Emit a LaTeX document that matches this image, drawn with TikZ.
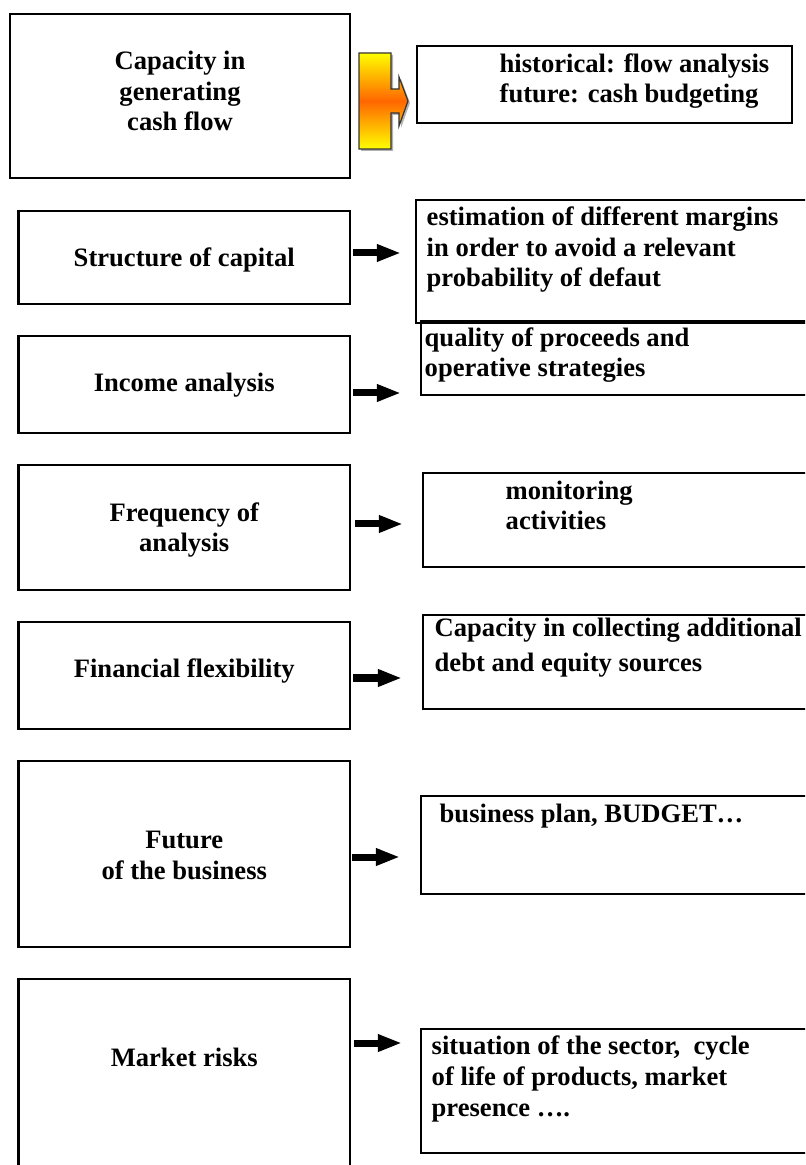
\documentclass[tikz,border=0pt]{standalone}
\usepackage{fontspec}
\setmainfont{Liberation Serif}
\usetikzlibrary{arrows.meta, math}

\tikzset{
	box/.style={draw, line width=0.02cm, inner sep=0pt},
	txt/.style={font=\bfseries\fontsize{7.56}{8.68}\selectfont, inner sep=0pt, align=center, anchor=base},
	ltxt/.style={txt, align=left, anchor=base west},
	blockarrow/.style={->, line width=0.07cm}
}

\begin{document}
\begin{tikzpicture}[x=0.01cm, y=-0.01cm, >={Triangle[length=0.24cm, width=0.16cm]}]

\tikzmath{
			\boxl = 18.5; \boxr = 350;
			\page = 805; \high = 1165;
          }

\useasboundingbox (0,0) rectangle (\page,\high);
\clip (0,0) rectangle (\page,\high);

\node[box, minimum width=3.405cm, minimum height=1.64cm] (generating) at (180,96) {};
\node[txt] (generatingtxt) at (generating.center |- 0,131) {Capacity in\\generating\\cash flow};

\foreach \nm/\ya/\yb/\yt/\txtl in {
		structure/211/304/267/{Structure of capital},
		income/336/433/392/{Income analysis},
		frequency/465/590/552/{Frequency of\\analysis},
		flexibility/622/729/677/{Financial flexibility},
		future/761/947/879/{Future\\of the business}}
{
	\node[box, minimum width={(\boxr-\boxl)*0.01cm}, minimum height={(\yb-\ya)*0.01cm}] (\nm) at ({(\boxl+\boxr)/2},{(\ya+\yb)/2}) {};
	\node[txt] (\nm txt) at (\nm.center |- 0,\yt) {\txtl};
}

\node[box, minimum width={(\boxr-\boxl)*0.01cm}, minimum height=2.4cm] (market) at ({(\boxl+\boxr)/2},1099) {};
\node[txt] (markettxt) at (market.center |- 0,1066) {Market risks};

\node[box, minimum width=3.75cm, minimum height=0.77cm] (flow) at (604.5,84.5) {};
\node[ltxt] (flowtxt) at (499,103) {historical: flow analysis\\future: cash budgeting};

\foreach \nm/\xa/\ya/\yb in {margins/416/200/323, proceeds/421/321/395, monitoring/423/473/567, collecting/423/615/709, plan/421/796/894, sector/421/1029/1153}
{
	\node[box, minimum width={(840-\xa)*0.01cm}, minimum height={(\yb-\ya)*0.01cm}] (\nm) at ({(\xa+840)/2},{(\ya+\yb)/2}) {};
}

\node[ltxt] (marginstxt) at (426,287) {estimation of different margins\\in order to avoid a relevant\\probability of defaut};
\node[ltxt] (proceedstxt) at (424,377) {quality of proceeds and\\operative strategies};
\node[ltxt] (monitoringtxt) at (505,530) {monitoring\\activities};
\node[ltxt] (collectingtxt) at (434,672) {Capacity in collecting additional\\[0.05cm]debt and equity sources};
\node[ltxt] (plantxt) at (439,822) {business plan, BUDGET…};
\node[ltxt] (sectortxt) at (431,1116) {situation of the sector,\ \ cycle\\of life of products, market\\presence ….};

\foreach \from/\to/\y/\sa/\sb in {
		structure/margins/253/2/14,
		income/proceeds/393/2/19,
		frequency/monitoring/524/4/19,
		flexibility/collecting/678/2/20,
		future/plan/857/1/20,
		market/sector/1043/3/18}
{
	\draw[blockarrow, shorten <={\sa*0.01cm}, shorten >={\sb*0.01cm}] (\from.east |- 0,\y) -- (\to.west |- 0,\y);
}

\fill[gray!60] (361,55) -- (393,55) -- (393,91) -- (401,91) -- (401,79) -- (410,103) -- (401,128) -- (401,115) -- (393,115) -- (393,151) -- (361,151) -- cycle;
\shadedraw[draw=black!80, line width=0.012cm, top color=yellow, bottom color=yellow, middle color={rgb,255:red,255;green,102;blue,0}]
	(359,53) -- (391,53) -- (391,89) -- (399,89) -- (399,77) -- (408,101) -- (399,126) -- (399,113) -- (391,113) -- (391,149) -- (359,149) -- cycle;

\end{tikzpicture}
\end{document}
